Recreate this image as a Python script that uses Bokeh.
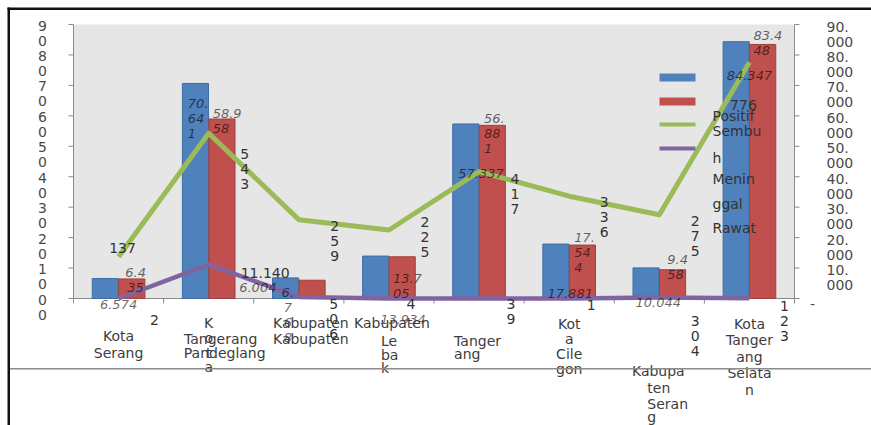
from bokeh.plotting import figure
from bokeh.models import Range1d, Label, BoxAnnotation
from bokeh.embed import file_html
from bokeh.resources import INLINE

# --- data -------------------------------------------------------------
categories = ["Kota Serang", "Kabupaten Tangerang", "Kabupaten Pandeglang",
              "Kabupaten Lebak", "Kota Tangerang", "Kota Cilegon",
              "Kabupaten Serang", "Kota Tangerang Selatan"]
series_names = ["Positif", "Sembuh", "Meninggal", "Rawat"]
positif = [6574, 70641, 6768, 13934, 57337, 17881, 10044, 84347]
sembuh = [6435, 58958, 6004, 13705, 56881, 17544, 9458, 83448]
meninggal = [13700, 54300, 25900, 22500, 41700, 33600, 27500, 77600]
rawat = [2, 11140, 506, 4, 39, 1, 304, 123]
meninggal_text = ["137", "543", "259", "225", "417", "336", "275", "776"]
rawat_text = ["2", "11.140", "506", "4", "39", "1", "304", "123"]
y_ticks = [0, 10000, 20000, 30000, 40000, 50000, 60000, 70000, 80000, 90000]

# --- layout -----------------------------------------------------------
W, H = 871, 425
PL, PR, PT, PB = 73, 794, 24, 298      # plot area inside the chart box
YMAX = 90000
N = len(categories)
XS = (PR - PL) / N                      # px per category
YS = (PB - PT) / YMAX                   # px per unit

FONT = "DejaVu Sans"
BLUE, RED, GREEN, PURPLE = "#4f81bd", "#c0504d", "#9bbb59", "#8064a2"
DARK = "#333333"
AX = "#8a8a8a"


def to_x(px):
    return (px - PL) / XS


def to_y(py):
    return (PB - py) / YS


def fmt(v):
    return f"{v:,}".replace(",", ".")


def chunks(s, widths):
    out, i = [], 0
    for w in widths:
        out.append(s[i:i + w])
        i += w
    return out


# the frame spans the whole canvas so that texts below the axis stay visible
p = figure(width=W, height=H, output_backend="svg", toolbar_location=None,
           x_range=Range1d(to_x(0), to_x(W)), y_range=Range1d(to_y(H), to_y(0)),
           x_axis_location=None, y_axis_location=None, min_border=0,
           title=None)
p.background_fill_color = "white"
p.border_fill_color = "white"
p.outline_line_color = None
p.xgrid.visible = False
p.ygrid.visible = False

# plot area
p.add_layout(BoxAnnotation(left=0, right=N, bottom=0, top=YMAX,
                           fill_color="#e6e6e6", fill_alpha=1.0,
                           line_color=None, level="underlay"))

# axes: lines and outward ticks
tx = 5 / XS
ty = 5 / YS
p.segment(x0=[0, N, 0], y0=[0, 0, 0], x1=[0, N, N], y1=[YMAX, YMAX, 0],
          line_color=AX, line_width=1)
p.segment(x0=[-tx] * len(y_ticks), y0=y_ticks, x1=[0] * len(y_ticks),
          y1=y_ticks, line_color=AX, line_width=1)
p.segment(x0=[N] * len(y_ticks), y0=y_ticks, x1=[N + tx] * len(y_ticks),
          y1=y_ticks, line_color=AX, line_width=1)
p.segment(x0=list(range(N + 1)), y0=[0] * (N + 1), x1=list(range(N + 1)),
          y1=[-ty] * (N + 1), line_color=AX, line_width=1)

# --- bars and lines ---------------------------------------------------
xc = [i + 0.5 for i in range(N)]
off, bw = 0.147, 0.29
p.vbar(x=[x - off for x in xc], top=positif, width=bw,
       fill_color=BLUE, line_color="#3d6ea6", line_width=1)
p.vbar(x=[x + off for x in xc], top=sembuh, width=bw,
       fill_color=RED, line_color="#a13f3c", line_width=1)
p.line(xc, meninggal, line_color=GREEN, line_width=5, line_join="round")
p.line(xc, rawat, line_color=PURPLE, line_width=4.5, line_join="round")


def put(text, x, y, dx=0, dy=0, align="center", size="14px", style="normal",
        color=DARK, alpha=1.0):
    p.add_layout(Label(x=x, y=y, x_offset=dx, y_offset=-dy, text=text,
                       text_align=align, text_baseline="middle",
                       text_font=FONT, text_font_size=size,
                       text_font_style=style, text_color=color,
                       text_alpha=alpha))


LS = 15  # line step of wrapped labels

# value labels of the bars (italic, translucent)
pos_wrap = [[5], [3, 2, 1], [2, 1, 1, 1], [6], [6], [6], [6], [6]]
pos_off = [(0, 26, "center"), (-21, 20, "left"), (-11, 15, "center"),
           (14, 63, "center"), (2, 50, "center"), (1, 49, "center"),
           (-1, 35, "center"), (0, 34, "center")]
sem_wrap = [[3, 2], [4, 2], [5], [4, 2], [3, 2, 1], [3, 2, 1], [3, 2], [4, 2]]
sem_off = [(17, -6, "center"), (4, -6, "left"), (-41, 7, "center"),
           (4, 22, "left"), (5, -7, "left"), (5, -8, "left"),
           (8, -10, "left"), (4, -9, "left")]
for vals, wraps, offs in ((positif, pos_wrap, pos_off),
                          (sembuh, sem_wrap, sem_off)):
    for i, v in enumerate(vals):
        dx, dy, al = offs[i]
        for k, part in enumerate(chunks(fmt(v), wraps[i])):
            put(part, xc[i], v, dx, dy + k * LS, al, "13px", "italic",
                "black", 0.6)

# value labels of the lines
men_stack = [False, True, True, True, True, True, True, False]
men_off = [(4, -9), (36, 21), (36, 6), (36, -8), (36, 7), (35, 6),
           (36, 6), (-6, 43)]
for i, v in enumerate(meninggal):
    dx, dy = men_off[i]
    parts = list(meninggal_text[i]) if men_stack[i] else [meninggal_text[i]]
    for k, part in enumerate(parts):
        put(part, xc[i], v, dx, dy + k * LS)

raw_stack = [False, False, True, False, True, False, True, True]
raw_off = [(36, 22, "center"), (32, 8, "left"), (35, 7, "center"),
           (22, 6, "center"), (32, 6, "center"), (22, 7, "center"),
           (36, 23, "center"), (35, 8, "center")]
for i, v in enumerate(rawat):
    dx, dy, al = raw_off[i]
    parts = list(rawat_text[i]) if raw_stack[i] else [rawat_text[i]]
    for k, part in enumerate(parts):
        put(part, xc[i], v, dx, dy + k * LS, al)

# wrapped category names below the axis (text, dx, dy below axis, align)
cat_lines = [
    [("Kota", 0, 37), ("Serang", 0, 54)],
    [("K", 0, 24), ("o", 0, 39), ("t", 0, 54), ("a", 0, 68),
     ("Tangerang", 12, 40), ("Pandeglang", 16, 54)],
    [("Kabupaten", 12, 24), ("Kabupaten", 12, 40)],
    [("Kabupaten", 3, 24), ("Le", -8, 42, "left"), ("ba", -8, 56, "left"),
     ("k", -8, 69, "left")],
    [("Tanger", -25, 42, "left"), ("ang", -25, 55, "left")],
    [("Kot", 0, 25), ("a", 0, 40), ("Cile", 0, 55), ("gon", 0, 70)],
    [("Kabupa", -1, 72), ("ten", -12, 89, "left"), ("Seran", -12, 105, "left"),
     ("g", -12, 118, "left")],
    [("Kota", 0, 25), ("Tanger", 0, 41), ("ang", 0, 58), ("Selata", 0, 74),
     ("n", 0, 91)],
]
for i, lines in enumerate(cat_lines):
    for item in lines:
        txt, dx, dy = item[:3]
        al = item[3] if len(item) > 3 else "center"
        put(txt, xc[i], 0, dx, dy, al, color="#3c3c3c")

# left value axis: stacked tick texts
for t in y_ticks:
    put(str(t // 10000), to_x(42), t, 0, 1, color="#4a4a4a")
    put("0", to_x(42), t, 0, 16, color="#4a4a4a")

# right value axis: wrapped tick texts
for t in y_ticks:
    if t == 0:
        put("-", to_x(812), t, 0, 5, "center", color="#4a4a4a")
        continue
    put(f"{t // 1000}.", to_x(826), t, 0, 2, "left", color="#4a4a4a")
    put("000", to_x(826), t, 0, 17, "left", color="#4a4a4a")

# legend
leg_keys = [(BLUE, 73, 81), (RED, 97, 105), (GREEN, 122, 126), (PURPLE, 146, 150)]
for col, top, bot in leg_keys:
    p.add_layout(BoxAnnotation(left=to_x(659), right=to_x(695),
                               top=to_y(top), bottom=to_y(bot),
                               fill_color=col, fill_alpha=1.0,
                               line_color=None))
leg_text = chunks(series_names[0], [7]) + chunks(series_names[1], [5, 1]) + \
    chunks(series_names[2], [5, 4]) + chunks(series_names[3], [5])
leg_y = [115, 130, 157, 178, 203, 227]
for txt, yy in zip(leg_text, leg_y):
    put(txt, to_x(712), to_y(yy), 0, 0, "left")

# chart box border and separator line
p.add_layout(BoxAnnotation(left=to_x(7), right=to_x(W), top=to_y(7),
                           bottom=to_y(9.5), fill_color="#111111",
                           fill_alpha=1.0, line_color=None))
p.add_layout(BoxAnnotation(left=to_x(7), right=to_x(9.5), top=to_y(7),
                           bottom=to_y(H), fill_color="#111111",
                           fill_alpha=1.0, line_color=None))
p.add_layout(BoxAnnotation(left=to_x(9.5), right=to_x(W), top=to_y(367.5),
                           bottom=to_y(369), fill_color="#8c8c8c",
                           fill_alpha=1.0, line_color=None))

open("out.html", "w").write(file_html(p, INLINE))
